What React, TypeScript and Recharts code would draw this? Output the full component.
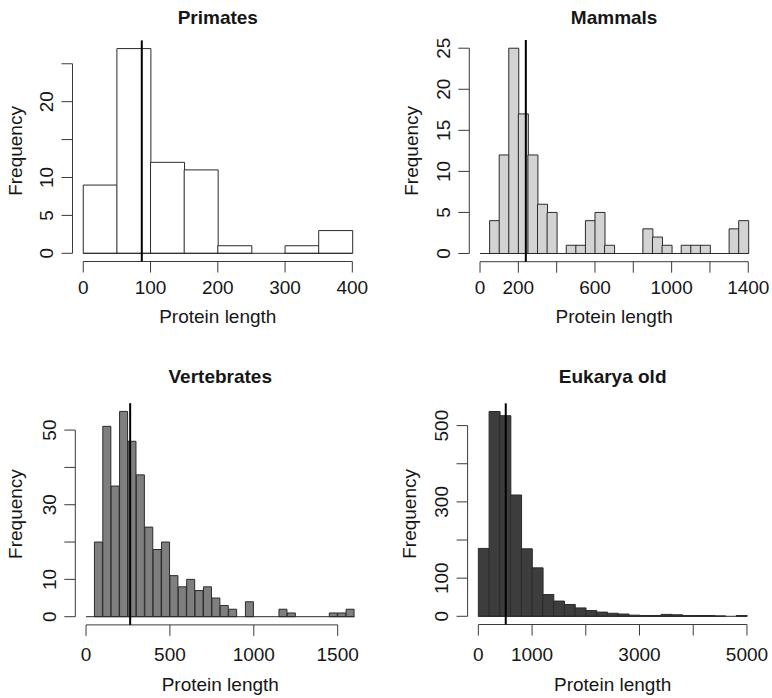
import React from "react";
import { ComposedChart, Bar, XAxis, YAxis, ReferenceLine } from "recharts";

// bin counts (equal-width bins starting at 0)
const primatesCounts = [9, 27, 12, 11, 1, 0, 1, 3];
const mammalsCounts = [0, 4, 12, 25, 17, 12, 6, 5, 0, 1, 1, 4, 5, 1, 0, 0, 0, 3, 2, 1, 0, 1, 1, 1, 0, 0, 3, 4];
const vertebratesCounts = [0, 20, 51, 35, 55, 47, 38, 24, 18, 20, 11, 8, 10, 7, 8, 5, 3, 2, 0, 4, 0, 0, 0, 2, 1, 0, 0, 0, 0, 1, 1, 2];
const eukaryaCounts = [178, 537, 526, 318, 177, 127, 57, 40, 31, 22, 15, 11, 8, 6, 3, 2, 2, 5, 4, 2, 2, 2, 1, 0, 2];

const primatesBinWidth = 50;
const mammalsBinWidth = 50;
const vertebratesBinWidth = 50;
const eukaryaBinWidth = 200;

// mean protein length, drawn as the vertical line
const primatesMean = 87;
const mammalsMean = 239;
const vertebratesMean = 263;
const eukaryaMean = 510;

const primatesXTicks = [0, 100, 200, 300, 400];
const primatesXLabels = [0, 100, 200, 300, 400];
const mammalsXTicks = [0, 200, 400, 600, 800, 1000, 1200, 1400];
const mammalsXLabels = [0, 200, 600, 1000, 1400];
const vertebratesXTicks = [0, 500, 1000, 1500];
const vertebratesXLabels = [0, 500, 1000, 1500];
const eukaryaXTicks = [0, 1000, 2000, 3000, 4000, 5000];
const eukaryaXLabels = [0, 1000, 3000, 5000];

const primatesYTicks = [0, 5, 10, 15, 20, 25];
const primatesYLabels = [0, 5, 10, 20];
const mammalsYTicks = [0, 5, 10, 15, 20, 25];
const mammalsYLabels = [0, 5, 10, 15, 20, 25];
const vertebratesYTicks = [0, 10, 20, 30, 40, 50];
const vertebratesYLabels = [0, 10, 30, 50];
const eukaryaYTicks = [0, 100, 200, 300, 400, 500];
const eukaryaYLabels = [0, 100, 300, 500];

const FONT = "'Liberation Sans', Arial, Helvetica, sans-serif";
const INK = "#161616";
const EDGE = "#2b2b2b";
const AXIS = "#3a3a3a";
const W = 386;
const H = 349;
const AX = 40; // room reserved for each axis inside the margins
const TICK = 11;

const panels = [
  {
    title: "Primates", counts: primatesCounts, binWidth: primatesBinWidth, mean: primatesMean,
    xTicks: primatesXTicks, xLabels: primatesXLabels, yTicks: primatesYTicks, yLabels: primatesYLabels,
    fill: "#ffffff", left: 0, top: 0,
    plot: { left: 72.5, right: 363.1, top: 40.4, bottom: 261.5 },
    titleY: 24, xlabY: 322.7, ylabX: 21.9, xGap: 21.3,
  },
  {
    title: "Mammals", counts: mammalsCounts, binWidth: mammalsBinWidth, mean: mammalsMean,
    xTicks: mammalsXTicks, xLabels: mammalsXLabels, yTicks: mammalsYTicks, yLabels: mammalsYLabels,
    fill: "#d3d3d3", left: 386, top: 0,
    plot: { left: 83.3, right: 373, top: 40, bottom: 261.7 },
    titleY: 24, xlabY: 322.7, ylabX: 32, xGap: 21.3,
  },
  {
    title: "Vertebrates", counts: vertebratesCounts, binWidth: vertebratesBinWidth, mean: vertebratesMean,
    xTicks: vertebratesXTicks, xLabels: vertebratesXLabels, yTicks: vertebratesYTicks, yLabels: vertebratesYLabels,
    fill: "#7f7f7f", left: 0, top: 349,
    plot: { left: 75.3, right: 365.2, top: 54.2, bottom: 275.9 },
    titleY: 34.3, xlabY: 341.7, ylabX: 21.9, xGap: 25.1,
  },
  {
    title: "Eukarya old", counts: eukaryaCounts, binWidth: eukaryaBinWidth, mean: eukaryaMean,
    xTicks: eukaryaXTicks, xLabels: eukaryaXLabels, yTicks: eukaryaYTicks, yLabels: eukaryaYLabels,
    fill: "#3d3d3d", left: 386, top: 349,
    plot: { left: 81.6, right: 371.7, top: 54.3, bottom: 275.5 },
    titleY: 34.3, xlabY: 341.7, ylabX: 30.3, xGap: 25.1,
  },
];

function Histogram({ p }) {
  const n = p.counts.length;
  const xHi = n * p.binWidth;
  const xPad = 0.04 * xHi;
  const yMax = Math.max(...p.counts);
  const yPad = 0.04 * yMax;
  const data = p.counts.map((count, i) => ({ mid: (i + 0.5) * p.binWidth, count }));
  const xDomain = [-xPad, xHi + xPad];
  const yDomain = [-yPad, yMax + yPad];
  const margin = {
    top: p.plot.top,
    right: W - p.plot.right,
    bottom: H - p.plot.bottom - AX,
    left: p.plot.left - AX,
  };
  const cx = (p.plot.left + p.plot.right) / 2;
  const cy = (p.plot.top + p.plot.bottom) / 2;

  const xTick = (props) => {
    const { x, y, payload } = props;
    if (!p.xLabels.includes(payload.value)) return <g />;
    return (
      <text x={x} y={y + p.xGap} textAnchor="middle" fontSize={19} fill={INK} fontFamily={FONT}>
        {payload.value}
      </text>
    );
  };

  const yTick = (props) => {
    const { x, y, payload } = props;
    if (!p.yLabels.includes(payload.value)) return <g />;
    const bx = x - 8.5;
    return (
      <text x={bx} y={y} transform={`rotate(-90 ${bx} ${y})`} textAnchor="middle" fontSize={19} fill={INK} fontFamily={FONT}>
        {payload.value}
      </text>
    );
  };

  return (
    <div style={{ position: "absolute", left: p.left, top: p.top, width: W, height: H }}>
      <ComposedChart width={W} height={H} data={data} margin={margin} barCategoryGap={0} barGap={0}>
        <XAxis
          dataKey="mid"
          type="number"
          domain={xDomain}
          allowDataOverflow
          ticks={p.xTicks}
          interval={0}
          height={AX}
          tickSize={TICK}
          tickMargin={0}
          axisLine={false}
          tickLine={{ stroke: AXIS, strokeWidth: 1 }}
          tick={xTick}
        />
        <YAxis
          type="number"
          domain={yDomain}
          allowDataOverflow
          ticks={p.yTicks}
          interval={0}
          width={AX}
          tickSize={TICK}
          tickMargin={0}
          axisLine={false}
          tickLine={{ stroke: AXIS, strokeWidth: 1 }}
          tick={yTick}
        />
        <Bar dataKey="count" fill={p.fill} stroke={EDGE} strokeWidth={1} isAnimationActive={false} />
        <ReferenceLine
          segment={[{ x: 0, y: 0 }, { x: xHi, y: 0 }]}
          stroke={EDGE}
          strokeWidth={1}
          ifOverflow="visible"
        />
        <ReferenceLine
          segment={[{ x: xDomain[0], y: 0 }, { x: xDomain[0], y: p.yTicks[p.yTicks.length - 1] }]}
          stroke={AXIS}
          strokeWidth={1}
          ifOverflow="visible"
        />
        <ReferenceLine
          segment={[{ x: p.xTicks[0], y: yDomain[0] }, { x: p.xTicks[p.xTicks.length - 1], y: yDomain[0] }]}
          stroke={AXIS}
          strokeWidth={1}
          ifOverflow="visible"
        />
        <ReferenceLine x={p.mean} stroke="#000000" strokeWidth={2} ifOverflow="visible" />
        <text x={cx} y={p.titleY} textAnchor="middle" fontSize={19} fontWeight="bold" fill={INK} fontFamily={FONT}>
          {p.title}
        </text>
        <text x={cx} y={p.xlabY} textAnchor="middle" fontSize={19} fill={INK} fontFamily={FONT}>
          Protein length
        </text>
        <text
          x={p.ylabX}
          y={cy}
          transform={`rotate(-90 ${p.ylabX} ${cy})`}
          textAnchor="middle"
          fontSize={19}
          fill={INK}
          fontFamily={FONT}
        >
          Frequency
        </text>
      </ComposedChart>
    </div>
  );
}

export default function App() {
  return (
    <div style={{ position: "absolute", left: 0, top: 0, width: 772, height: 698, background: "#ffffff" }}>
      {panels.map((p) => (
        <Histogram key={p.title} p={p} />
      ))}
    </div>
  );
}
